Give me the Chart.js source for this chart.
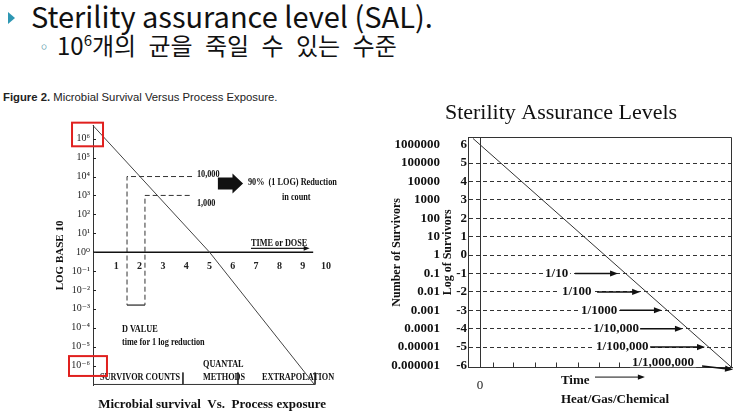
<!DOCTYPE html>
<html>
<head>
<meta charset="utf-8">
<script src="https://cdn.jsdelivr.net/npm/chart.js@4/dist/chart.umd.min.js"></script>
<style>
  body { margin: 0; width: 743px; height: 417px; background: #fff; position: relative; overflow: hidden; }
  .hd { position: absolute; white-space: nowrap; color: #111; font-family: "Noto Sans CJK KR", "Noto Sans", sans-serif; }
  #bullet { position: absolute; left: 8px; top: 12px; width: 0; height: 0;
            border-left: 7px solid #2e97b3; border-top: 6px solid transparent; border-bottom: 6px solid transparent; }
  #head { left: 31px; top: -5px; font-size: 29px; line-height: 40px; }
  #ring { left: 36px; top: 31px; font-size: 16px; line-height: 30px; color: #5b9aa8; }
  #sub { left: 57px; top: 29px; font-size: 24px; line-height: 32px; word-spacing: 7px; }
  #sub sup { font-size: 15px; vertical-align: 9px; line-height: 0; }
  #fig { left: 3px; top: 90px; font: 11.3px "Liberation Sans", sans-serif; line-height: 14px; color: #222; }
  canvas { position: absolute; }
  #survival { left: 0; top: 100px; }
  #sal { left: 370px; top: 90px; }
</style>
</head>
<body>
<div id="bullet"></div>
<div id="head" class="hd">Sterility assurance level (SAL).</div>
<div id="ring" class="hd">◦</div>
<div id="sub" class="hd">10<sup>6</sup>개의 균을 죽일 수 있는 수준</div>
<div id="fig" class="hd"><b>Figure 2.</b> Microbial Survival Versus Process Exposure.</div>
<canvas id="survival" width="370" height="317"></canvas>
<canvas id="sal" width="373" height="327"></canvas>
<script>
// ---- left figure: survival vs exposure
const logPowers = [6, 5, 4, 3, 2, 1, 0, -1, -2, -3, -4, -5, -6];
const powerLabels = ['10⁶', '10⁵', '10⁴', '10³', '10²', '10¹', '10⁰', '10⁻¹', '10⁻²', '10⁻³', '10⁻⁴', '10⁻⁵', '10⁻⁶'];
const doseTicks = [1, 2, 3, 4, 5, 6, 7, 8, 9, 10];
const survival = [[0, 6.7], [5, 0], [9.5, -7]];
const count10k = [[4.25, 4], [1.46, 4], [1.46, -2.8]];
const count1k = [[4.15, 3], [2.23, 3], [2.23, -2.8]];
const dValueBar = [[1.46, -2.8], [2.23, -2.8]];
const doseAxis = [[0, 0], [9.45, 0]];
const methodBase = [[0, -7], [9.53, -7]];
const methodBreaks = [3.86, 6.22, 9.53];

// ---- right figure: sterility assurance levels
const logTicks = [6, 5, 4, 3, 2, 1, 0, -1, -2, -3, -4, -5, -6];
const survivorLabels = ['1000000', '100000', '10000', '1000', '100', '10', '1', '0.1', '0.01', '0.001', '0.0001', '0.00001', '0.000001'];
const salLine = [[-0.34, 6.34], [12.14, -6.14]];
const fractions = ['1/10', '1/100', '1/1000', '1/10,000', '1/100,000', '1/1,000,000'];
const fractionLevel = [-1, -2, -3, -4, -5, -5.82];
const timeTicks = [0.62, 1.59, 2.63, 3.67, 4.7, 5.74, 6.7];

const serif = '"Liberation Serif", "DejaVu Serif", serif';
Chart.defaults.font.family = serif;
Chart.defaults.color = '#111';

const pts = arr => arr.map(([x, y]) => ({x, y}));
function seg(arr, dash, width, color) {
  return { data: pts(arr), showLine: true, pointRadius: 0, borderColor: color || '#333',
           borderWidth: width || 1, borderDash: dash || [], clip: false, tension: 0 };
}

function arrow(ctx, x0, y0, x1, y1, head, width) {
  const a = Math.atan2(y1 - y0, x1 - x0), c = Math.cos(a), s = Math.sin(a);
  ctx.lineWidth = width;
  ctx.beginPath();
  ctx.moveTo(x0, y0);
  ctx.lineTo(x1 - c * head * 0.7, y1 - s * head * 0.7);
  ctx.stroke();
  ctx.beginPath();
  ctx.moveTo(x1, y1);
  ctx.lineTo(x1 - c * head + s * head * 0.38, y1 - s * head - c * head * 0.38);
  ctx.lineTo(x1 - c * head - s * head * 0.38, y1 - s * head + c * head * 0.38);
  ctx.closePath();
  ctx.fill();
}

// scanned figure uses a narrow serif, so squeeze it a bit
function note(ctx, text, px, py, font, sx) {
  ctx.save();
  ctx.translate(px, py);
  ctx.scale(sx, 1);
  ctx.font = font;
  ctx.textAlign = 'left';
  ctx.textBaseline = 'middle';
  ctx.fillText(text, 0, 0);
  ctx.restore();
}

const leftNotes = [
  {t: '10,000', x: 4.46, y: 4.1},
  {t: '1,000', x: 4.46, y: 2.58},
  {t: '90%  (1 LOG) Reduction', x: 6.65, y: 3.68},
  {t: 'in count', x: 8.11, y: 2.89},
  {t: 'TIME or DOSE', x: 6.78, y: 0.5},
  {t: 'D VALUE', x: 1.24, y: -4.05},
  {t: 'time for 1 log reduction', x: 1.24, y: -4.74},
  {t: 'SURVIVOR COUNTS', x: 0.3, y: -6.63},
  {t: 'QUANTAL', x: 4.72, y: -5.95},
  {t: 'METHODS', x: 4.72, y: -6.63},
  {t: 'EXTRAPOLATION', x: 7.25, y: -6.63}
];
const blockArrow = {x0: 5.36, x1: 6.44, y: 3.63};
const highlights = [{x0: -0.9, x1: 0.43, y0: 6.85, y1: 5.6}, {x0: -1.03, x1: 0.6, y0: -5.5, y1: -6.55}];

const surviveMarks = {
  id: 'surviveMarks',
  afterDatasetsDraw(chart) {
    const {ctx, scales: {x, y}} = chart;
    ctx.save();
    ctx.fillStyle = '#111';
    ctx.strokeStyle = '#222';
    leftNotes.forEach(n => note(ctx, n.t, x.getPixelForValue(n.x), y.getPixelForValue(n.y), 'bold 11px ' + serif, 0.75));

    const ax = x.getPixelForValue(0);
    ctx.lineWidth = 1;
    logPowers.forEach(p => {
      const py = Math.round(y.getPixelForValue(p)) + 0.5;
      ctx.beginPath(); ctx.moveTo(ax, py); ctx.lineTo(ax + 3, py); ctx.stroke();
    });

    const ty = y.getPixelForValue(0.2);
    arrow(ctx, x.getPixelForValue(6.78), ty, x.getPixelForValue(9.3), ty, 6, 1.2);

    const bx0 = x.getPixelForValue(blockArrow.x0), bx1 = x.getPixelForValue(blockArrow.x1);
    const by = y.getPixelForValue(blockArrow.y), neck = bx0 + (bx1 - bx0) * 0.58;
    ctx.beginPath();
    ctx.moveTo(bx0, by - 6); ctx.lineTo(neck, by - 6); ctx.lineTo(neck, by - 10); ctx.lineTo(bx1, by);
    ctx.lineTo(neck, by + 10); ctx.lineTo(neck, by + 6); ctx.lineTo(bx0, by + 6);
    ctx.closePath(); ctx.fill();

    ctx.strokeStyle = '#e0201e';
    ctx.lineWidth = 2;
    highlights.forEach(b => {
      const l = x.getPixelForValue(b.x0), r = x.getPixelForValue(b.x1);
      const t = y.getPixelForValue(b.y0), btm = y.getPixelForValue(b.y1);
      ctx.strokeRect(l, t, r - l, btm - t);
    });
    ctx.restore();
  }
};

new Chart(document.getElementById('survival'), {
  type: 'scatter',
  data: {
    datasets: [
      seg(survival, [], 1, '#444'),
      seg(doseAxis, [], 1.5, '#111'),
      seg(count10k, [5, 3]),
      seg(count1k, [5, 3]),
      seg(dValueBar, [], 1.2, '#222'),
      seg(methodBase, [], 1, '#333'),
      ...methodBreaks.map(v => seg([[v, -6.37], [v, -7]], [], 1, '#333'))
    ]
  },
  options: {
    responsive: false,
    animation: false,
    layout: {padding: {top: 25.5, right: 44, left: 0, bottom: 0}},
    plugins: {
      legend: {display: false},
      tooltip: {enabled: false},
      title: {
        display: true, position: 'bottom', align: 'end', fullSize: false,
        text: 'Microbial survival  Vs.  Process exposure',
        font: {size: 13, weight: 'bold'}, color: '#111',
        padding: {top: 11.5, bottom: 4.5}
      }
    },
    scales: {
      x: {
        type: 'linear', position: {y: 0}, min: 0, max: 10,
        afterBuildTicks: s => { s.ticks = doseTicks.map(v => ({value: v})); },
        ticks: {font: {size: 10, weight: 'bold'}, color: '#222', padding: 8, autoSkip: false},
        grid: {display: false, drawTicks: false},
        border: {display: false}
      },
      y: {
        type: 'linear', min: -7.05, max: 6.7,
        afterBuildTicks: s => { s.ticks = logPowers.map(v => ({value: v})); },
        ticks: {callback: (v, i) => powerLabels[i], font: {size: 10}, color: '#222', padding: 3, autoSkip: false},
        grid: {display: false, drawTicks: false},
        border: {color: '#333', width: 1},
        title: {display: true, text: 'LOG BASE 10', font: {size: 11, weight: 'bold'}, color: '#111', padding: {top: 53.4, bottom: 0}},
        afterFit: s => { s.width = 93; }
      }
    }
  },
  plugins: [surviveMarks]
});

const fracX = [3.13, 3.94, 4.86, 5.44, 5.58, 7.31];
const fracArrows = [
  [4.57, -1, 6.64, -1], [5.63, -2, 7.7, -2], [6.73, -3, 8.75, -3],
  [7.7, -4, 9.76, -4], [8.18, -5, 10.82, -5], [10.68, -6.03, 12.17, -6.22]
];

const salMarks = {
  id: 'salMarks',
  afterDatasetsDraw(chart) {
    const {ctx, chartArea: a, scales: {x, y}} = chart;
    ctx.save();
    ctx.strokeStyle = '#333';
    ctx.fillStyle = '#111';
    ctx.lineWidth = 1;
    const L = Math.round(a.left) + 0.5, T = Math.round(a.top) + 0.5;
    const R = Math.round(a.right) - 0.5, B = Math.round(a.bottom) - 0.5;
    ctx.beginPath(); ctx.moveTo(L, T); ctx.lineTo(R, T); ctx.lineTo(R, B); ctx.stroke();

    timeTicks.forEach(v => {
      const px = Math.round(x.getPixelForValue(v)) + 0.5;
      ctx.beginPath(); ctx.moveTo(px, B); ctx.lineTo(px, B - 5); ctx.stroke();
    });

    ctx.font = 'bold 13px ' + serif;
    ctx.textBaseline = 'middle';
    fractions.forEach((f, i) => {
      const px = x.getPixelForValue(fracX[i]), py = y.getPixelForValue(fractionLevel[i]);
      const w = ctx.measureText(f).width;
      ctx.fillStyle = '#fff';
      ctx.fillRect(px - 2, py - 5, w + 4, 10);
      ctx.fillStyle = '#111';
      ctx.fillText(f, px, py);
      const [x0, y0, x1, y1] = fracArrows[i];
      ctx.strokeStyle = '#111';
      arrow(ctx, x.getPixelForValue(x0), y.getPixelForValue(y0), x.getPixelForValue(x1), y.getPixelForValue(y1), 8, 1.5);
    });

    ctx.fillStyle = '#111';
    ctx.font = 'bold 13px ' + serif;
    ctx.fillText('Time', x.getPixelForValue(3.89), y.getPixelForValue(-6.85));
    ctx.fillText('Heat/Gas/Chemical', x.getPixelForValue(3.89), y.getPixelForValue(-7.83));
    const ay = y.getPixelForValue(-6.63);
    arrow(ctx, x.getPixelForValue(5.53), ay, x.getPixelForValue(7.93), ay, 7, 1);
    ctx.restore();
  }
};

const sameRange = {min: -6.12, max: 6.42};
new Chart(document.getElementById('sal'), {
  type: 'scatter',
  data: {datasets: [seg(salLine, [], 1, '#333')]},
  options: {
    responsive: false,
    animation: false,
    layout: {padding: {left: 20, right: 11, top: 0, bottom: 0}},
    plugins: {
      legend: {display: false},
      tooltip: {enabled: false},
      title: {
        display: true, text: 'Sterility Assurance Levels',
        font: {size: 22, weight: 'normal'}, color: '#111',
        padding: {top: 9.8, bottom: 10.8}
      }
    },
    scales: {
      x: {
        type: 'linear', min: -0.58, max: 12.12,
        afterBuildTicks: s => { s.ticks = [{value: 0}]; },
        ticks: {font: {size: 13}, color: '#222', padding: 10.5, callback: v => String(v)},
        grid: {color: '#333', drawTicks: false},
        border: {color: '#333', width: 1},
        afterFit: s => { s.height = 49.3; }
      },
      y: {
        type: 'linear', ...sameRange, weight: 0,
        afterBuildTicks: s => { s.ticks = logTicks.map(v => ({value: v})); },
        ticks: {font: {size: 13, weight: 'bold'}, color: '#111', padding: 1, autoSkip: false, callback: v => String(v)},
        grid: {color: c => (c.tick && Math.abs(c.tick.value) < 6) ? '#333' : 'rgba(0,0,0,0)', drawTicks: false},
        border: {color: '#333', width: 1, dash: [4, 3]},
        title: {display: true, text: 'Log of Survivors', font: {size: 12, weight: 'bold'}, color: '#111', padding: 0},
        afterFit: s => { s.width = 27; }
      },
      y2: {
        type: 'linear', position: 'left', ...sameRange, weight: 1,
        afterBuildTicks: s => { s.ticks = logTicks.map(v => ({value: v})); },
        ticks: {font: {size: 13, weight: 'bold'}, color: '#111', padding: 1, autoSkip: false, callback: (v, i) => survivorLabels[i]},
        grid: {display: false, drawTicks: false},
        border: {display: false},
        title: {display: true, text: 'Number of Survivors', font: {size: 12, weight: 'bold'}, color: '#111', padding: 0},
        afterFit: s => { s.width = 51; }
      }
    }
  },
  plugins: [salMarks]
});
</script>
</body>
</html>
